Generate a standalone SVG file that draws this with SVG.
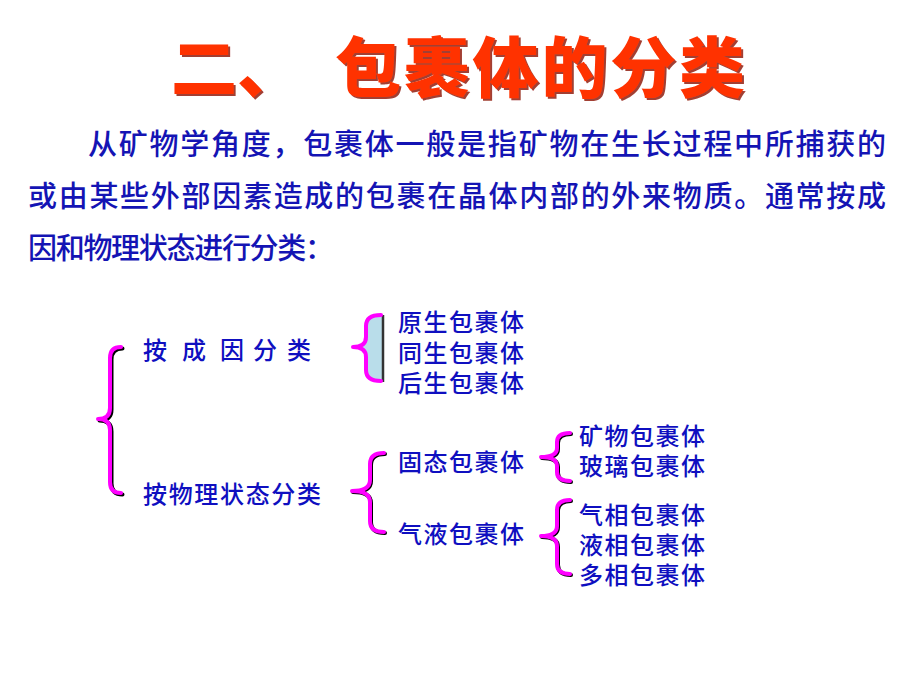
<svg xmlns="http://www.w3.org/2000/svg" width="920" height="690" viewBox="0 0 920 690">
<defs>
<filter id="sh" x="-5%" y="-10%" width="110%" height="130%">
<feDropShadow dx="2" dy="2" stdDeviation="0.6" flood-color="#8A0A00" flood-opacity="0.8"/>
</filter>
</defs>
<style>
.t{font-family:"Noto Sans CJK SC","Liberation Sans",sans-serif;}
.title{font-size:66px;font-weight:900;fill:#FF3300;}
.body{font-size:29px;font-weight:500;fill:#1414B4;}
.lbl{font-size:24px;font-weight:500;fill:#0F0FC0;}
.br{fill:none;stroke:#FF00FF;stroke-width:4;stroke-linecap:round;stroke-linejoin:round;}
.brs{fill:none;stroke:#000;stroke-width:4;stroke-linecap:round;stroke-linejoin:round;}
</style>
<rect width="920" height="690" fill="#fff"/>
<g id="title" filter="url(#sh)">
<text class="t title" x="171" y="92">二、<tspan x="335" textLength="410" lengthAdjust="spacing">包裹体的分类</tspan></text>
</g>
<g id="paragraph">
<text class="t body" x="88" y="155" textLength="798" lengthAdjust="spacing">从矿物学角度，包裹体一般是指矿物在生长过程中所捕获的</text>
<text class="t body" x="28" y="207" textLength="858" lengthAdjust="spacing">或由某些外部因素造成的包裹在晶体内部的外来物质。通常按成</text>
<text class="t body" x="28" y="259" textLength="306" lengthAdjust="spacing">因和物理状态进行分类：</text>
</g>
<g id="connectors">
<path class="brs" transform="translate(1.5,1.5)" d="M121,347 Q110,347 110,358 L110,408 Q110,419 98,419 Q110,419 110,430 L110,482 Q110,493 121,493"/>
<path class="br" d="M121,347 Q110,347 110,358 L110,408 Q110,419 98,419 Q110,419 110,430 L110,482 Q110,493 121,493"/>
<path d="M383,315 L379,315 Q366,315 366,326 L366,337 Q366,347 353,347 Q366,347 366,357 L366,370 Q366,381 379,381 L383,381 Z" fill="#B9DDEA" stroke="none"/>
<line x1="383" y1="315" x2="383" y2="382" stroke="#333" stroke-width="2.5"/>
<path class="br" d="M381,315 Q366,315 366,326 L366,337 Q366,347 353,347 Q366,347 366,357 L366,370 Q366,381 381,381"/>
<path class="brs" transform="translate(1,1)" d="M384,453 Q370,453 370,464 L370,480 Q370,491 352,491 Q370,491 370,502 L370,521 Q370,532 384,532"/>
<path class="br" d="M384,453 Q370,453 370,464 L370,480 Q370,491 352,491 Q370,491 370,502 L370,521 Q370,532 384,532"/>
<path class="brs" transform="translate(1,1)" d="M570,433 Q557,433 557,442 L557,448 Q557,457 541,457 Q557,457 557,466 L557,472 Q557,481 570,481"/>
<path class="br" d="M570,433 Q557,433 557,442 L557,448 Q557,457 541,457 Q557,457 557,466 L557,472 Q557,481 570,481"/>
<path class="brs" transform="translate(1,1)" d="M570,500 Q557,500 557,510 L557,526 Q557,536 541,536 Q557,536 557,546 L557,564 Q557,574 570,574"/>
<path class="br" d="M570,500 Q557,500 557,510 L557,526 Q557,536 541,536 Q557,536 557,546 L557,564 Q557,574 570,574"/>
</g>
<g id="n-cause"><text class="t lbl" x="143 182 220 253 287" y="359">按成因分类</text></g>
<g id="n-state"><text class="t lbl" x="143" y="503" textLength="178" lengthAdjust="spacing">按物理状态分类</text></g>
<g id="n-primary"><text class="t lbl" x="398" y="331" textLength="126" lengthAdjust="spacing">原生包裹体</text></g>
<g id="n-syngenetic"><text class="t lbl" x="398" y="362" textLength="126" lengthAdjust="spacing">同生包裹体</text></g>
<g id="n-secondary"><text class="t lbl" x="398" y="392" textLength="126" lengthAdjust="spacing">后生包裹体</text></g>
<g id="n-solid"><text class="t lbl" x="398" y="471" textLength="126" lengthAdjust="spacing">固态包裹体</text></g>
<g id="n-fluid"><text class="t lbl" x="398" y="543" textLength="126" lengthAdjust="spacing">气液包裹体</text></g>
<g id="n-mineral"><text class="t lbl" x="579" y="445" textLength="126" lengthAdjust="spacing">矿物包裹体</text></g>
<g id="n-glass"><text class="t lbl" x="579" y="475" textLength="126" lengthAdjust="spacing">玻璃包裹体</text></g>
<g id="n-gas"><text class="t lbl" x="579" y="524" textLength="126" lengthAdjust="spacing">气相包裹体</text></g>
<g id="n-liquid"><text class="t lbl" x="579" y="554" textLength="126" lengthAdjust="spacing">液相包裹体</text></g>
<g id="n-multi"><text class="t lbl" x="579" y="584" textLength="126" lengthAdjust="spacing">多相包裹体</text></g>
</svg>
